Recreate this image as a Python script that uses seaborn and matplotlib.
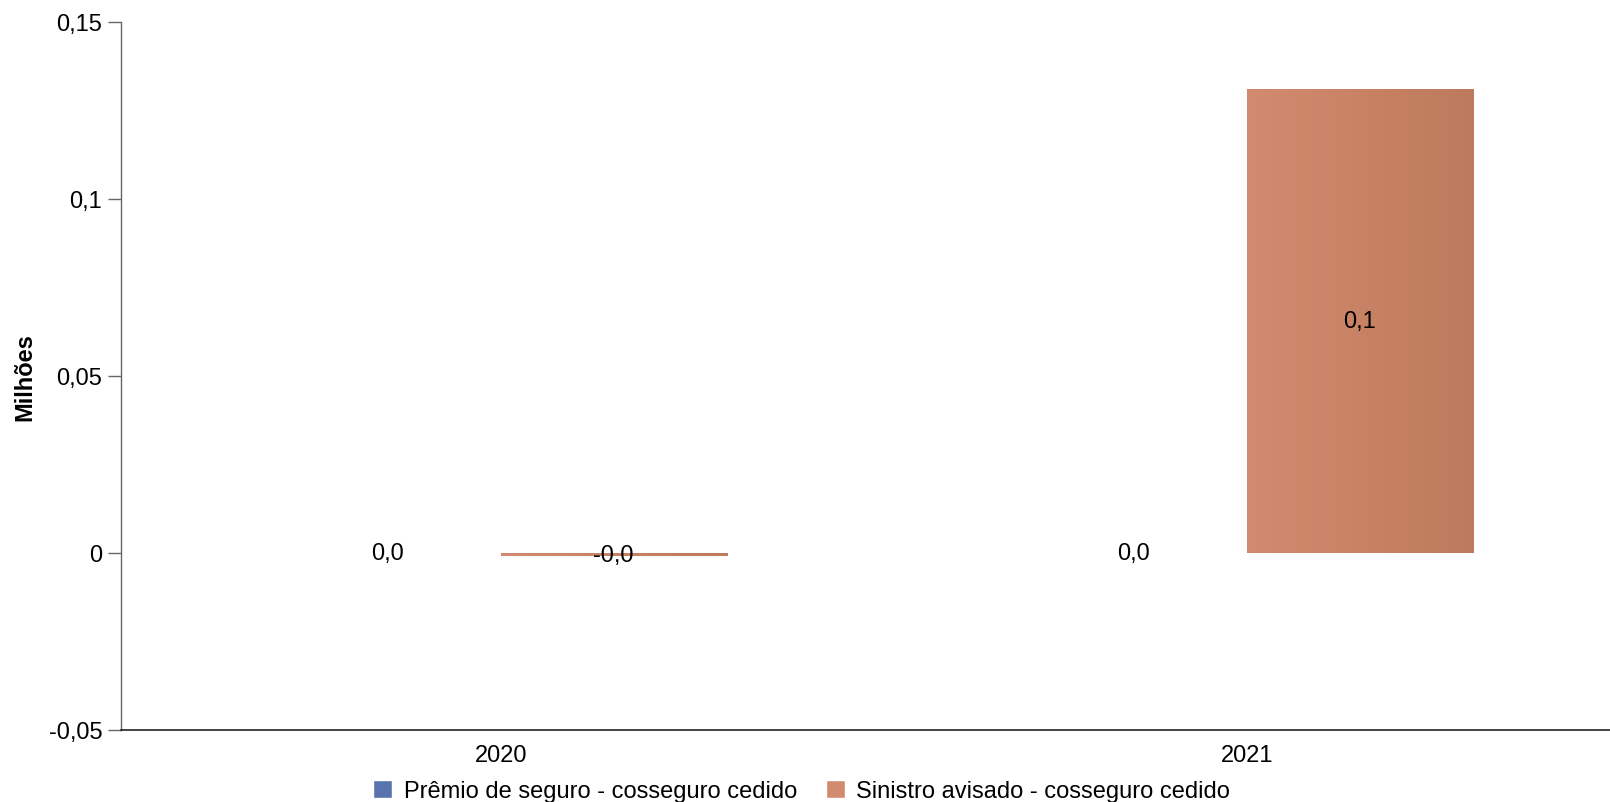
import seaborn as sns
import matplotlib.pyplot as plt
import pandas as pd
import numpy as np
from matplotlib.colors import LinearSegmentedColormap
from matplotlib.patches import Patch

# data (in millions)
anos = ['2020', '2021']
series = ['Prêmio de seguro - cosseguro cedido', 'Sinistro avisado - cosseguro cedido']
premio = [0.0, 0.0]
sinistro = [-0.001, 0.131]
yticks = [-0.05, 0, 0.05, 0.1, 0.15]
ytick_labels = ['-0,05', '0', '0,05', '0,1', '0,15']

df = pd.DataFrame({
    'ano': anos * 2,
    'serie': [series[0]] * 2 + [series[1]] * 2,
    'valor': premio + sinistro,
})

sns.set_theme(style='white')
plt.rcParams['font.family'] = ['Liberation Sans', 'DejaVu Sans']
plt.rcParams['text.color'] = 'black'
plt.rcParams['axes.labelcolor'] = 'black'
plt.rcParams['xtick.color'] = 'black'
plt.rcParams['ytick.color'] = 'black'
fs = 17

blue = ['#7D95CC', '#5873AE']
orange = ['#D28B6E', '#BE7A5C']
cores = [blue[0], orange[0]]

fig, ax = plt.subplots(figsize=(16.10, 8.03), dpi=100)
fig.subplots_adjust(left=121/1610, right=1.0, top=1-22.7/803, bottom=1-731/803)

sns.barplot(data=df, x='ano', y='valor', hue='serie', palette=cores,
            width=0.606, gap=0, ax=ax, legend=False, errorbar=None)

# horizontal gradient on each bar
grad = np.linspace(0, 1, 256).reshape(1, -1)
for cont, cc in zip(ax.containers, [blue, orange]):
    cmap = LinearSegmentedColormap.from_list('g', cc)
    for p in cont.patches:
        x0, y0 = p.get_x(), p.get_y()
        w, h = p.get_width(), p.get_height()
        if h == 0:
            continue
        im = ax.imshow(grad, extent=[x0, x0 + w, min(y0, y0 + h), max(y0, y0 + h)],
                       cmap=cmap, aspect='auto', zorder=p.get_zorder() + 0.1)
        im.set_clip_path(p)

# value labels
for cont, vals in zip(ax.containers, [premio, sinistro]):
    labs = [f'{v:.1f}'.replace('.', ',') for v in vals]
    ax.bar_label(cont, labels=labs, label_type='center', fontsize=fs, color='black', zorder=5)

ax.set_xlim(-0.509, 1.487)
ax.set_ylim(-0.05, 0.15)
ax.set_yticks(yticks)
ax.set_yticklabels(ytick_labels)
ax.tick_params(axis='y', length=9.5, width=1, color='#666666', labelcolor='black',
               labelsize=fs, pad=4, left=True)
ax.tick_params(axis='x', length=0, labelsize=fs, labelcolor='black', pad=10)
ax.set_xlabel('')
ax.set_ylabel('Milhões', fontsize=fs, fontweight='bold', color='black')
ax.yaxis.set_label_coords(-0.057, 0.5)

for s in ['top', 'right']:
    ax.spines[s].set_visible(False)
ax.spines['left'].set_color('#666666')
ax.spines['bottom'].set_color('#222222')
ax.spines['left'].set_linewidth(1)
ax.spines['bottom'].set_linewidth(1.2)

handles = [Patch(facecolor=blue[1]), Patch(facecolor=orange[0])]
fig.legend(handles, series, loc='center', bbox_to_anchor=(0.498, 0.0137), ncol=2,
           frameon=False, fontsize=fs, handlelength=0.8, handleheight=0.8,
           handletextpad=0.5, columnspacing=1.2, borderaxespad=0)

fig.savefig('out.png', dpi=100)
